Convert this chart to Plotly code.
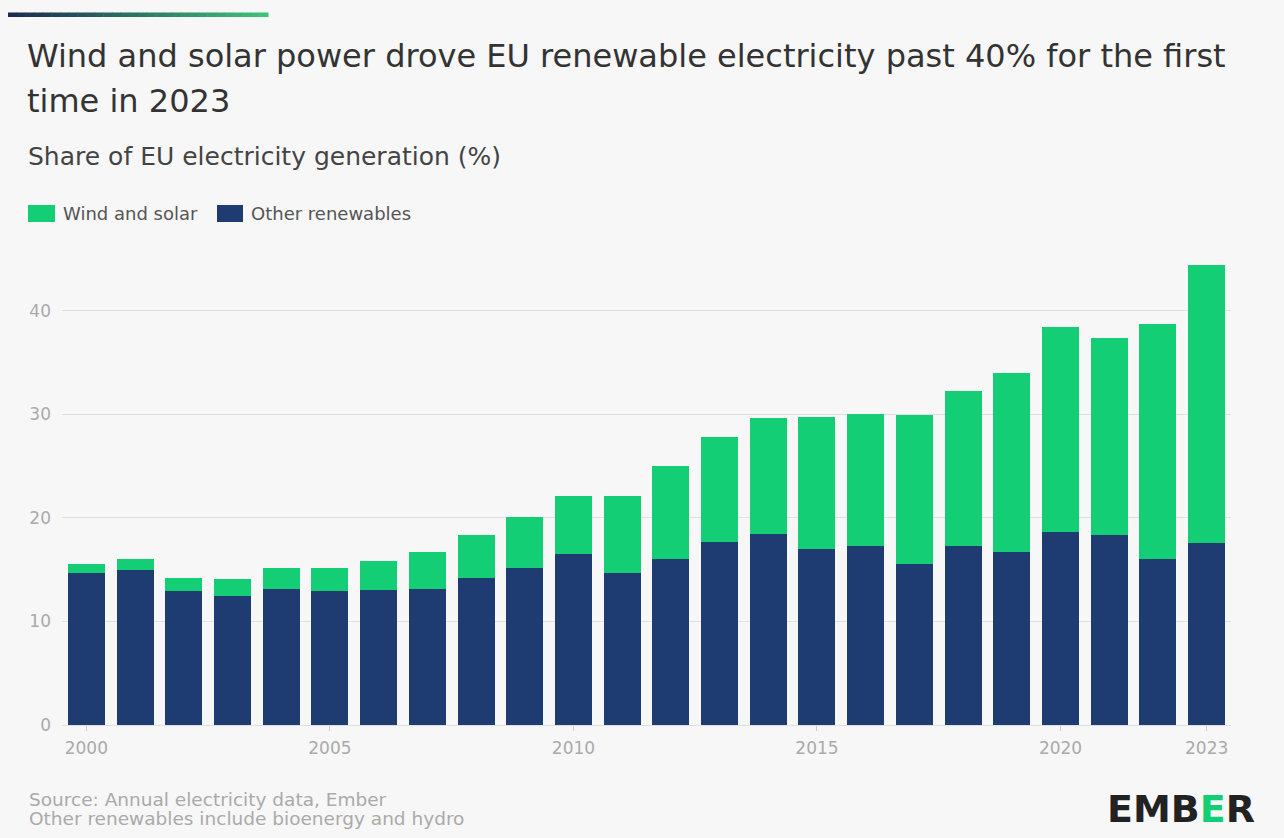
import plotly.graph_objects as go

years = list(range(2000, 2024))
other_renewables = [14.7, 15.0, 12.9, 12.5, 13.1, 12.9, 13.0, 13.1, 14.2, 15.2,
                    16.5, 14.7, 16.0, 17.65, 18.4, 17.0, 17.3, 15.5, 17.3, 16.7,
                    18.6, 18.3, 16.0, 17.55]
wind_solar = [0.8, 1.0, 1.3, 1.6, 2.1, 2.3, 2.8, 3.6, 4.1, 4.9,
              5.6, 7.4, 9.0, 10.2, 11.2, 12.7, 12.7, 14.4, 15.0, 17.3,
              19.8, 19.1, 22.7, 26.9]
x_ticks = [2000, 2005, 2010, 2015, 2020, 2023]
y_ticks = [0, 10, 20, 30, 40]

W, H = 1284, 838
ML, MR, MT, MB = 62, 53, 259, 113
PW, PH = W - ML - MR, H - MT - MB

GREEN = "#13ce74"
NAVY = "#1e3c72"
BG = "#f7f7f7"
FONT = "DejaVu Sans"


def px(x):
    return (x - ML) / PW


def py(y):
    return (H - MB - y) / PH


fig = go.Figure()
fig.add_trace(go.Bar(x=years, y=other_renewables, name="Other renewables",
                     marker=dict(color=NAVY, line=dict(width=0)), width=0.76))
fig.add_trace(go.Bar(x=years, y=wind_solar, name="Wind and solar",
                     marker=dict(color=GREEN, line=dict(width=0)), width=0.76))

shapes = []
# gradient accent bar at top-left
n = 30
c0 = (29, 43, 79)
c1 = (62, 194, 122)
x0p, x1p = 8, 268
for i in range(n):
    t = i / (n - 1)
    col = tuple(int(c0[k] + (c1[k] - c0[k]) * t) for k in range(3))
    xa = x0p + (x1p - x0p) * i / n
    xb = x0p + (x1p - x0p) * (i + 1) / n + 0.5
    shapes.append(dict(type="rect", xref="paper", yref="paper",
                       x0=px(xa), x1=px(xb), y0=py(17), y1=py(12.5),
                       fillcolor="rgb(%d,%d,%d)" % col, line=dict(width=0),
                       layer="above"))
# legend swatches
shapes.append(dict(type="rect", xref="paper", yref="paper",
                   x0=px(28), x1=px(55), y0=py(222), y1=py(205),
                   fillcolor=GREEN, line=dict(width=0)))
shapes.append(dict(type="rect", xref="paper", yref="paper",
                   x0=px(217), x1=px(243), y0=py(222), y1=py(205),
                   fillcolor=NAVY, line=dict(width=0)))


def text(s, x, y, size, color, anchor="left", **kw):
    return dict(text=s, x=px(x), y=py(y), xref="paper", yref="paper",
                xanchor=anchor, yanchor="middle", showarrow=False,
                font=dict(family=FONT, size=size, color=color, **kw))


ann = [
    text("Wind and solar power drove EU renewable electricity past 40% for the first",
         25, 56, 32, "#333333"),
    text("time in 2023", 25, 101, 32, "#333333"),
    text("Share of EU electricity generation (%)", 26, 156, 25, "#444444"),
    text("Wind and solar", 61, 213, 18, "#555555"),
    text("Other renewables", 249, 213, 18, "#555555"),
    text("Source: Annual electricity data, Ember", 27, 799, 18.5, "#aaaaaa"),
    text("Other renewables include bioenergy and hydro", 27, 818, 18.5, "#aaaaaa"),
    text("EMB<span style='color:%s'>E</span>R" % GREEN, 1257, 809, 38, "#222222",
         anchor="right", weight="bold"),
]

fig.update_layout(
    width=W, height=H,
    margin=dict(l=ML, r=MR, t=MT, b=MB, pad=0),
    barmode="stack",
    paper_bgcolor=BG, plot_bgcolor=BG,
    showlegend=False,
    shapes=shapes, annotations=ann,
    font=dict(family=FONT),
    xaxis=dict(range=[1999.5, 2023.5], tickmode="array", tickvals=x_ticks,
               ticktext=[str(v) for v in x_ticks], showgrid=False, zeroline=False,
               ticks="outside", ticklen=5, tickcolor="#cccccc", ticklabelstandoff=3,
               tickfont=dict(family=FONT, size=17, color="#aaaaaa"), showline=False),
    yaxis=dict(range=[0, 45], tickmode="array", tickvals=y_ticks,
               showgrid=True, gridcolor="#e0e0e0", gridwidth=1,
               zeroline=True, zerolinecolor="#e0e0e0", zerolinewidth=1,
               ticks="", ticklabelstandoff=10,
               tickfont=dict(family=FONT, size=17, color="#aaaaaa")),
)

fig.write_html("out.html", config={"displayModeBar": False},
               post_script="document.body.style.margin='0';document.body.style.overflow='hidden';")
